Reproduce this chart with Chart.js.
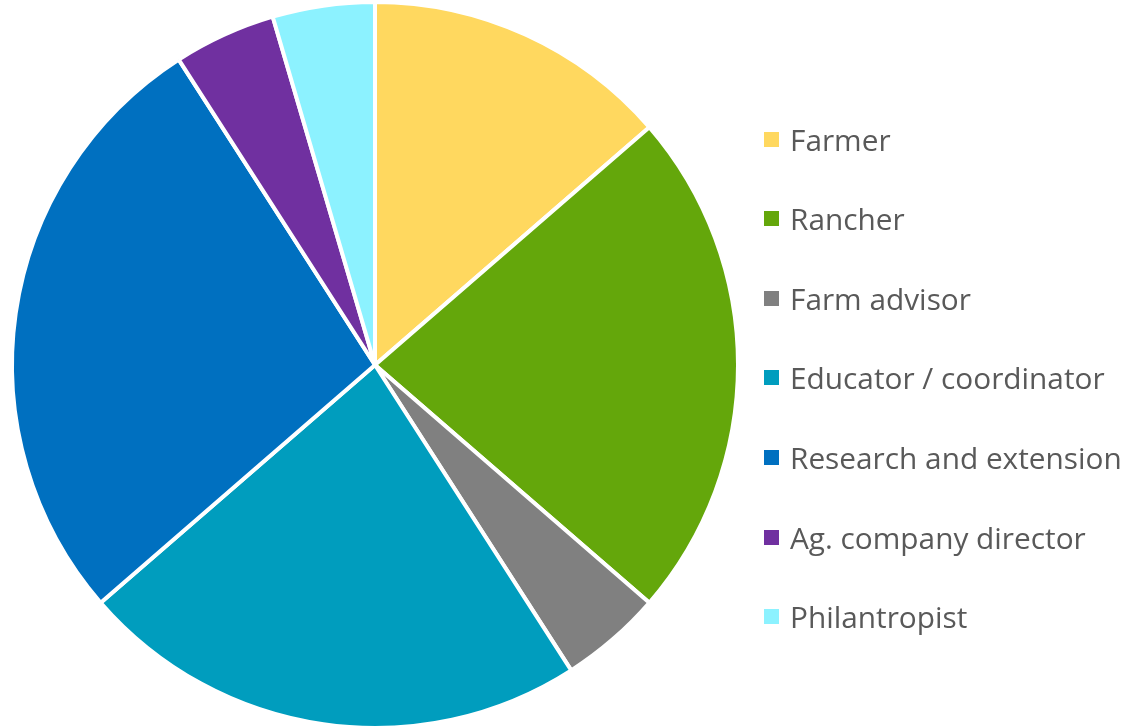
<!DOCTYPE html>
<html>
<head>
<meta charset="utf-8">
<script src="https://cdn.jsdelivr.net/npm/chart.js@4.4.0/dist/chart.umd.min.js"></script>
<style>
  html, body { margin: 0; padding: 0; background: #fff; }
  #wrap { position: relative; width: 1140px; height: 728px; }
  #legend { position: absolute; left: 764px; top: 0; font-family: 'Open Sans', sans-serif; font-size: 29.8px; color: #595959; }
  .item { position: absolute; left: 0; white-space: nowrap; display: flex; align-items: center; height: 40px; }
  .box { width: 15px; height: 15px; margin-right: 11px; }
</style>
</head>
<body>
<div id="wrap">
  <canvas id="pie" width="1140" height="728"></canvas>
  <div id="legend"></div>
</div>
<script>
const roles = ['Farmer', 'Rancher', 'Farm advisor', 'Educator / coordinator', 'Research and extension', 'Ag. company director', 'Philantropist'];
const counts = [3, 5, 1, 5, 6, 1, 1];
const colors = ['#FFD85F', '#64A70B', '#808080', '#009DBE', '#0070C0', '#7030A0', '#8CF2FF'];

const ctx = document.getElementById('pie').getContext('2d');
const chart = new Chart(ctx, {
  type: 'pie',
  data: {
    labels: roles,
    datasets: [{
      data: counts,
      backgroundColor: colors,
      borderColor: '#ffffff',
      borderWidth: 4,
      radius: 363
    }]
  },
  options: {
    responsive: false,
    animation: false,
    layout: { padding: { top: 2, right: 390, bottom: 0, left: 0 } },
    plugins: {
      legend: { display: false },
      tooltip: { enabled: false }
    }
  }
});

// custom legend
const legendHTML = roles.map((role, i) => {
  const y = 139 + i * 79.6 - 20;
  return `<div class="item" style="top:${y}px"><div class="box" style="background:${colors[i]}"></div><span>${role}</span></div>`;
}).join('');
document.getElementById('legend').innerHTML = legendHTML;
</script>
</body>
</html>
